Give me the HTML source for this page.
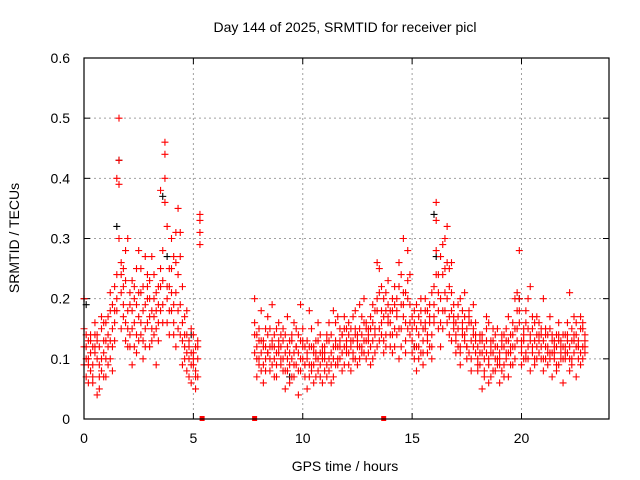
<!DOCTYPE html>
<html><head><meta charset="utf-8"><style>
html,body{margin:0;padding:0;background:#fff;}
svg{display:block;font-family:"Liberation Sans",sans-serif;}
</style></head><body>
<svg id="chart" width="640" height="480">
<rect x="0" y="0" width="640" height="480" fill="#fff"/>
<text x="345" y="32" text-anchor="middle" font-size="14">Day 144 of 2025, SRMTID for receiver picl</text>
<text transform="translate(19,238) rotate(-90)" text-anchor="middle" font-size="14">SRMTID / TECUs</text>
<text x="345" y="471" text-anchor="middle" font-size="14">GPS time / hours</text>
<g id="grid"></g><g id="ticks"></g><g id="marks"></g>
<rect x="84" y="58" width="525" height="361" fill="none" stroke="#000" stroke-width="1.2"/>
</svg>
<script>
const xTicks=[0,5,10,15,20];
const yTicks=[0,0.1,0.2,0.3,0.4,0.5,0.6];
const yTickLabels=["0","0.1","0.2","0.3","0.4","0.5","0.6"];
const times=[0.0,0.1,0.2,0.3,0.4,0.5,0.6,0.7,0.8,0.9,1.0,1.1,1.2,1.3,1.4,1.5,1.6,1.7,1.8,1.9,2.0,2.1,2.2,2.3,2.4,2.5,2.6,2.7,2.8,2.9,3.0,3.1,3.2,3.3,3.4,3.5,3.6,3.7,3.8,3.9,4.0,4.1,4.2,4.3,4.4,4.5,4.6,4.7,4.8,4.9,5.0,5.1,5.2,5.3,
7.8,7.9,8.0,8.1,8.2,8.3,8.4,8.5,8.6,8.7,8.8,8.9,9.0,9.1,9.2,9.3,9.4,9.5,9.6,9.7,9.8,9.9,10.0,10.1,10.2,10.3,10.4,10.5,10.6,10.7,10.8,10.9,11.0,11.1,11.2,11.3,11.4,11.5,11.6,11.7,11.8,11.9,12.0,12.1,12.2,12.3,12.4,12.5,12.6,12.7,12.8,12.9,13.0,13.1,13.2,13.3,13.4,13.5,13.6,13.7,13.8,13.9,14.0,14.1,14.2,14.3,14.4,14.5,14.6,14.7,14.8,14.9,15.0,15.1,15.2,15.3,15.4,15.5,15.6,15.7,15.8,15.9,16.0,16.1,16.2,16.3,16.4,16.5,16.6,16.7,16.8,16.9,17.0,17.1,17.2,17.3,17.4,17.5,17.6,17.7,17.8,17.9,18.0,18.1,18.2,18.3,18.4,18.5,18.6,18.7,18.8,18.9,19.0,19.1,19.2,19.3,19.4,19.5,19.6,19.7,19.8,19.9,20.0,20.1,20.2,20.3,20.4,20.5,20.6,20.7,20.8,20.9,21.0,21.1,21.2,21.3,21.4,21.5,21.6,21.7,21.8,21.9,22.0,22.1,22.2,22.3,22.4,22.5,22.6,22.7,22.8,22.9];
const valuesA=[.15,.10,.13,.08,.12,.11,.14,.09,.10,.13,.16,.12,.18,.15,.22,.20,.50,.24,.19,.28,.15,.21,.18,.12,.25,.17,.14,.22,.27,.16,.20,.15,.24,.18,.13,.22,.28,.46,.20,.25,.30,.19,.26,.35,.14,.22,.12,.18,.10,.15,.09,.12,.07,.33,
.20,.12,.15,.08,.13,.10,.17,.12,.09,.14,.11,.16,.12,.08,.14,.10,.06,.13,.09,.15,.11,.19,.10,.07,.13,.09,.15,.06,.11,.08,.14,.10,.12,.09,.16,.11,.07,.13,.17,.10,.14,.12,.15,.11,.13,.17,.10,.14,.19,.12,.16,.13,.11,.15,.13,.18,.12,.25,.16,.20,.14,.23,.12,.18,.15,.20,.10,.24,.17,.13,.28,.19,.15,.12,.19,.10,.16,.13,.20,.11,.17,.14,.22,.33,.18,.27,.15,.30,.20,.25,.13,.19,.16,.12,.20,.14,.17,.10,.18,.13,.15,.11,.12,.09,.14,.08,.11,.16,.07,.13,.10,.15,.11,.08,.14,.10,.17,.12,.09,.20,.15,.28,.13,.10,.18,.12,.22,.15,.09,.17,.11,.14,.20,.12,.09,.15,.11,.13,.08,.16,.12,.10,.14,.11,.21,.09,.13,.16,.10,.17,.12,.13];
const valuesB=[.20,.07,.09,.13,.06,.16,.04,.12,.15,.07,.10,.17,.13,.08,.16,.40,.43,.15,.25,.13,.30,.12,.09,.20,.11,.28,.21,.10,.15,.24,.12,.27,.17,.09,.19,.38,.16,.40,.32,.14,.18,.27,.12,.24,.31,.09,.17,.08,.13,.06,.14,.05,.10,.29,
.14,.07,.10,.18,.06,.15,.11,.08,.19,.12,.07,.13,.09,.15,.05,.17,.11,.07,.16,.12,.04,.10,.15,.12,.05,.18,.09,.12,.07,.16,.11,.06,.08,.14,.10,.06,.18,.09,.12,.15,.08,.17,.12,.16,.08,.13,.18,.09,.15,.11,.20,.10,.15,.09,.19,.14,.26,.13,.22,.11,.18,.16,.16,.11,.22,.14,.26,.12,.30,.21,.15,.24,.11,.18,.08,.14,.20,.09,.15,.18,.12,.21,.16,.36,.24,.12,.29,.21,.32,.14,.26,.16,.11,.19,.09,.15,.21,.12,.16,.08,.19,.13,.08,.14,.05,.12,.17,.06,.11,.15,.08,.12,.06,.13,.09,.15,.07,.11,.16,.10,.21,.18,.09,.15,.11,.20,.08,.17,.13,.10,.16,.12,.08,.15,.11,.17,.07,.12,.14,.09,.13,.06,.10,.16,.08,.13,.17,.07,.12,.09,.15,.11];
const valuesC=[.12,.14,.06,.11,.09,.14,.10,.07,.17,.11,.13,.09,.21,.12,.18,.24,.39,.21,.17,.23,.18,.14,.23,.16,.19,.13,.25,.18,.12,.20,.23,.18,.14,.21,.16,.25,.23,.44,.22,.18,.21,.16,.31,.15,.19,.13,.10,.14,.07,.11,.11,.08,.13,.31,
.16,.10,.13,.11,.09,.12,.14,.10,.13,.07,.15,.12,.10,.13,.08,.12,.09,.14,.07,.12,.08,.13,.12,.09,.11,.07,.12,.09,.13,.10,.07,.12,.10,.13,.08,.14,.10,.12,.09,.13,.11,.15,.13,.09,.15,.11,.14,.12,.10,.17,.13,.15,.14,.12,.16,.11,.20,.15,.18,.13,.21,.17,.18,.14,.19,.17,.22,.15,.19,.16,.23,.14,.13,.16,.12,.17,.11,.15,.18,.13,.16,.12,.19,.28,.21,.16,.24,.18,.26,.17,.21,.15,.14,.17,.12,.18,.13,.15,.11,.16,.12,.14,.10,.13,.11,.10,.13,.09,.12,.11,.14,.09,.10,.12,.07,.13,.11,.14,.12,.15,.18,.20,.12,.14,.10,.15,.13,.11,.16,.12,.14,.10,.13,.10,.14,.11,.13,.10,.12,.14,.11,.12,.12,.13,.10,.15,.11,.14,.12,.15,.10,.12];
const valuesD=[.09,.12,.10,.14,.07,.12,.13,.05,.08,.16,.07,.14,.10,.19,.13,.18,.30,.26,.22,.16,.12,.19,.15,.22,.14,.21,.16,.13,.19,.22,.17,.13,.20,.15,.22,.18,.19,.36,.16,.22,.25,.14,.21,.18,.27,.16,.14,.11,.12,.09,.10,.07,.12,.34,
.11,.14,.09,.13,.12,.08,.11,.15,.12,.10,.09,.11,.14,.10,.11,.08,.13,.10,.11,.09,.14,.08,.13,.09,.10,.12,.08,.11,.10,.13,.09,.11,.11,.07,.13,.09,.12,.16,.10,.12,.14,.09,.11,.14,.12,.10,.15,.13,.12,.14,.11,.16,.13,.17,.10,.15,.18,.21,.14,.17,.12,.19,.14,.20,.12,.18,.15,.19,.21,.11,.20,.16,.17,.10,.15,.12,.18,.11,.16,.14,.19,.10,.17,.24,.15,.20,.18,.25,.16,.22,.18,.17,.13,.15,.11,.16,.14,.12,.17,.10,.14,.16,.09,.11,.13,.07,.15,.10,.13,.08,.12,.10,.09,.14,.12,.11,.13,.09,.14,.12,.13,.16,.11,.13,.16,.10,.14,.12,.10,.14,.13,.15,.10,.14,.12,.10,.14,.11,.09,.13,.10,.14,.11,.14,.12,.10,.14,.12,.13,.11,.16,.14];
const blackTimes=[0.0,0.1,1.5,1.6,3.6,3.8,4.9,16.0,16.1,19.9,15.1,9.4];
const blackValues=[.20,.19,.32,.43,.37,.27,.14,.34,.27,.20,.12,.07];
const gapTimes=[5.4,7.8,13.7];
const gapValues=[0,0,0];

const X0=84,X1=609,Y0=419,Y1=58,XMAX=24,YMAX=0.6;
const sx=t=>X0+(X1-X0)*t/XMAX;
const sy=v=>Y0-(Y0-Y1)*v/YMAX;
const NS="http://www.w3.org/2000/svg";
const grid=document.getElementById('grid'),ticks=document.getElementById('ticks'),marks=document.getElementById('marks');
function mk(tag,attrs,parent){const e=document.createElementNS(NS,tag);for(const k in attrs)e.setAttribute(k,attrs[k]);parent.appendChild(e);return e;}
xTicks.forEach(t=>{const x=sx(t);
 if(t>0){const g=mk('line',{x1:x,x2:x,y1:Y1,y2:Y0,stroke:'#a0a0a0','stroke-dasharray':'2,3'},grid);
 
 }
 mk('line',{x1:x,x2:x,y1:Y0,y2:Y0-6,stroke:'#000'},ticks);
 mk('line',{x1:x,x2:x,y1:Y1,y2:Y1+6,stroke:'#000'},ticks);
 const l=mk('text',{x:x,y:443,'text-anchor':'middle','font-size':'14'},ticks);l.textContent=String(t);
 
 
});
yTicks.forEach((v,i)=>{const y=sy(v);
 if(v>0&&v<YMAX){const g=mk('line',{x1:X0,x2:X1,y1:y,y2:y,stroke:'#a0a0a0','stroke-dasharray':'2,3'},grid);
 
 }
 mk('line',{x1:X0,x2:X0+6,y1:y,y2:y,stroke:'#000'},ticks);
 mk('line',{x1:X1,x2:X1-6,y1:y,y2:y,stroke:'#000'},ticks);
 const l=mk('text',{x:70,y:y+5,'text-anchor':'end','font-size':'14'},ticks);l.textContent=yTickLabels[i];
 
 
});
function plus(t,v,color,name){const x=sx(t),y=sy(v);
 const p=mk('path',{d:`M${x-3.5},${y}h7M${x},${y-3.5}v7`,stroke:color,'stroke-width':'1.1',fill:'none'},marks);
 
 }
blackTimes.forEach((t,i)=>plus(t,blackValues[i],'#000','black-point'));
times.forEach((t,i)=>{
 plus(t,valuesA[i],'#ff0000','red-point');
 plus(t,valuesB[i],'#ff0000','red-point');
 plus(t,valuesC[i],'#ff0000','red-point');
 plus(t,valuesD[i],'#ff0000','red-point');
});
gapTimes.forEach((t,i)=>{const r=mk('rect',{x:sx(t)-2.5,y:sy(gapValues[i])-3,width:5,height:5,fill:'#ff0000'},marks);
 
 });
</script>
</body></html>
